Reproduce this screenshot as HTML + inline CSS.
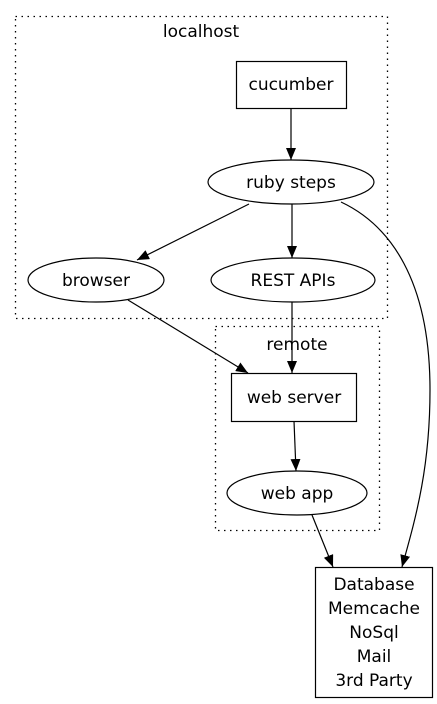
<!DOCTYPE html>
<html><head><meta charset="utf-8"><style>
html,body{margin:0;padding:0;background:#fff;}
svg{display:block;}
text{font-family:"DejaVu Sans","Liberation Sans",sans-serif;font-size:17px;fill:#000;}
</style></head><body>
<svg width="437" height="704" viewBox="0 0 437 704" xmlns="http://www.w3.org/2000/svg">
<defs>
<marker id="a" markerWidth="12" markerHeight="10" refX="12" refY="5" orient="auto" markerUnits="userSpaceOnUse">
<path d="M0,0 L12,5 L0,10 Z" fill="#000"/>
</marker>
</defs>
<g fill="none" stroke="#000" stroke-width="1.3" stroke-dasharray="1.5,4.5">
<rect x="15.5" y="16.5" width="372" height="302"/>
<rect x="215.5" y="326.5" width="164" height="204"/>
</g>
<text x="201" y="37" text-anchor="middle">localhost</text>
<text x="297" y="350" text-anchor="middle">remote</text>
<g fill="none" stroke="#000" stroke-width="1.2">
<rect x="236.5" y="61.5" width="110" height="47"/>
<ellipse cx="291" cy="182" rx="83" ry="22"/>
<ellipse cx="96" cy="280" rx="68" ry="22"/>
<ellipse cx="293" cy="280" rx="82" ry="22"/>
<rect x="231.5" y="373.5" width="125" height="48"/>
<ellipse cx="297" cy="493" rx="70" ry="22"/>
<rect x="315.5" y="567.5" width="117" height="130"/>
<g marker-end="url(#a)">
<path d="M291,108 L291,160"/>
<path d="M249,204 L137,260"/>
<path d="M292,204 L292,258"/>
<path d="M341,202 C390,225 430,280 430,390 C430,470 415,520 402,567"/>
<path d="M128,300 L248,373"/>
<path d="M292,302 L292,373"/>
<path d="M294,421 L296,471"/>
<path d="M312,515 L333,567"/>
</g>
</g>
<g text-anchor="middle">
<text x="291" y="90">cucumber</text>
<text x="291" y="188">ruby steps</text>
<text x="96" y="286">browser</text>
<text x="293" y="286">REST APIs</text>
<text x="294" y="403">web server</text>
<text x="297" y="499">web app</text>
<text x="374" y="590">Database</text>
<text x="374" y="614">Memcache</text>
<text x="374" y="638">NoSql</text>
<text x="374" y="662">Mail</text>
<text x="374" y="686">3rd Party</text>
</g>
</svg>
</body></html>
